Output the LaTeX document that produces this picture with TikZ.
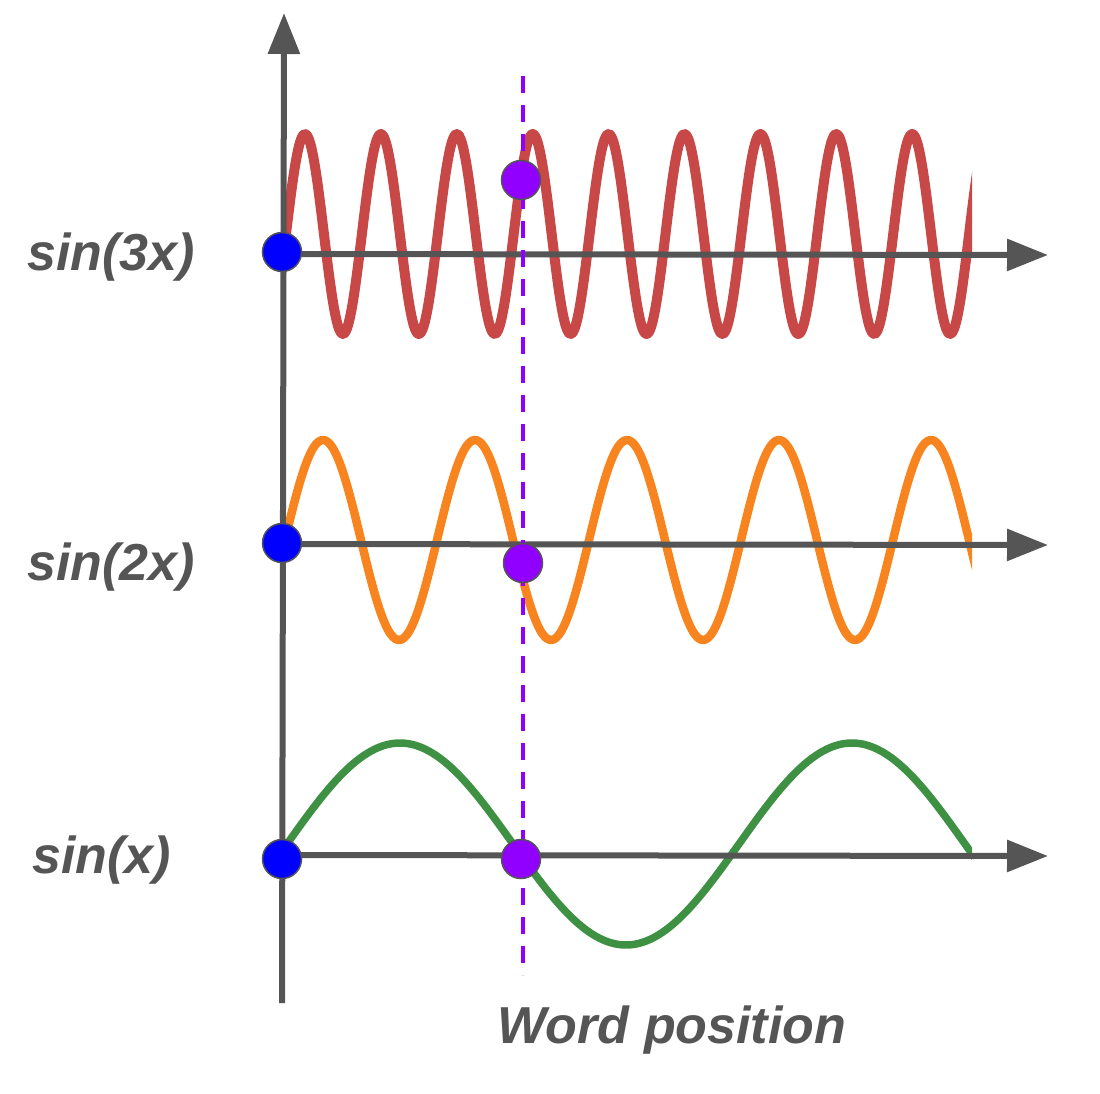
\documentclass[tikz,border=0pt]{standalone}
\usepackage{fontspec}
\setmainfont{Liberation Sans}
\usetikzlibrary{arrows.meta}
\definecolor{axisgray}{HTML}{555555}
\definecolor{wavered}{HTML}{C84747}
\definecolor{waveorange}{HTML}{F7841F}
\definecolor{wavegreen}{HTML}{3E9142}
\definecolor{dotblue}{HTML}{0000FF}
\definecolor{dotviolet}{HTML}{9100FF}

\begin{document}
\begin{tikzpicture}[
    x=1pt, y=-1pt,
    axisline/.style={draw=axisgray, line width=6pt, -{Triangle[length=41pt, width=31pt]}},
    wave/.style={line width=8.5pt, line join=round},
    dot/.style={circle, draw=axisgray, line width=1.5pt, minimum size=39pt, inner sep=0pt},
    origindot/.style={dot, fill=dotblue},
    posdot/.style={dot, fill=dotviolet},
    fnlabel/.style={font=\fontsize{52}{60}\selectfont\bfseries\itshape, text=axisgray, inner sep=0pt, anchor=base west}
]
\useasboundingbox (0,0) rectangle (1100,1094);

% Axis end points
\coordinate (ybot) at (282,1003);
\coordinate (ytop) at (284,13);
\coordinate (o3) at (282,254);
\coordinate (e3) at (1048,255);
\coordinate (o2) at (282,544);
\coordinate (e2) at (1048,545);
\coordinate (o1) at (282,855);
\coordinate (e1) at (1048,856);
\coordinate (dtop) at (523,76);
\coordinate (dbot) at (523,975);

% Waves
\begin{scope}
\clip (283,0) rectangle (972,1094);
\draw[wave, wavered, line width=10pt] plot[domain=270:990, samples=500, smooth] (\x, {234-100*sin((\x-286)*4.7431)});
\draw[wave, waveorange] plot[domain=270:990, samples=300, smooth] (\x, {540-100*sin((\x-285)*2.3684)});
\draw[wave, wavegreen, line width=7.5pt] plot[domain=270:990, samples=200, smooth] (\x, {844-101*sin((\x-287)*0.79646)});
\end{scope}

% Axes
\draw[axisline] (ybot) -- (ytop);
\draw[axisline] (o3) -- (e3);
\draw[axisline] (o2) -- (e2);
\draw[axisline] (o1) -- (e1);

% Word position marker
\draw[dotviolet, line width=4.5pt, dash pattern=on 17pt off 12pt] (dtop) -- (dbot);

% Dots
\node[origindot] (b3) at (282,252) {};
\node[origindot] (b2) at (282,543) {};
\node[origindot] (b1) at (282,859) {};
\node[posdot] (p3) at (521,180) {};
\node[posdot] (p2) at (523,563) {};
\node[posdot] (p1) at (521,859) {};

% Labels
\node[fnlabel] (lab3) at (27,270) {sin(3x)};
\node[fnlabel] (lab2) at (27,580) {sin(2x)};
\node[fnlabel] (lab1) at (32,873) {sin(x)};
\node[fnlabel, anchor=base] (wordpos) at (672,1043) {Word position};
\end{tikzpicture}
\end{document}
